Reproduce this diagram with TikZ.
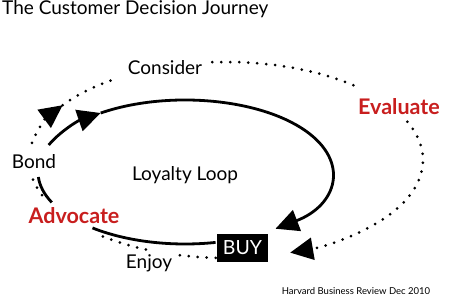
\documentclass[tikz,border=0pt]{standalone}
\usepackage{fontspec}
\setmainfont{Lato}
\usetikzlibrary{arrows.meta}
\definecolor{hbrred}{RGB}{200,30,30}

\begin{document}
\begin{tikzpicture}[x=1pt, y=1pt, >={Triangle[length=23pt, width=22pt]},
        stage/.style={font=\fontsize{19}{22}\selectfont, inner sep=1pt},
        hot/.style={font=\fontsize{21.5}{24}\selectfont\bfseries, text=hbrred, inner sep=1pt},
        loyal/.style={line width=2.8pt},
        journey/.style={line width=3pt, line cap=round, dash pattern=on 0pt off 9pt}]
    \useasboundingbox (0,0) rectangle (450,297);

    \node[stage, anchor=base west] (title) at (1,282) {The Customer Decision Journey};
    \node[stage, anchor=base] (consider) at (165,222) {Consider};
    \node[hot, anchor=base] (evaluate) at (399,182) {Evaluate};
    \node[stage, anchor=base] (bond) at (34,128) {Bond};
    \node[stage, anchor=base] (loyalty) at (185,116) {Loyalty Loop};
    \node[hot, anchor=base] (advocate) at (74,73) {Advocate};
    \node[stage, anchor=base] (enjoy) at (149,28) {Enjoy};
    \node[font=\fontsize{9.5}{11}\selectfont, anchor=base, inner sep=0pt] (source) at (356,2) {Harvard Business Review Dec 2010};

    % centres of the two loops
    \coordinate (loop) at (185,125);
    \coordinate (trip) at (226,137);

    % loyalty loop
    \path (loop) ++(-78:147 and 72) coordinate (buy-l);
    \path (loop) ++(-155:147 and 72) coordinate (adv-l);
    \path (loop) ++(158:147 and 72) coordinate (bond-l);
    \path (loop) ++(125:147 and 72) coordinate (tip-l);
    \draw[loyal] (buy-l) arc[start angle=-78, end angle=-129, x radius=147, y radius=72];
    \draw[loyal] (adv-l) arc[start angle=-155, end angle=-176, x radius=147, y radius=72];
    \draw[loyal, ->] (bond-l) arc[start angle=158, end angle=125, x radius=147, y radius=72];
    \draw[loyal, ->] (tip-l) arc[start angle=125, end angle=-52, x radius=147, y radius=72];

    % outer journey
    \path (trip) ++(170:197 and 98) coordinate (bond-j);
    \path (trip) ++(146:197 and 98) coordinate (tip-j);
    \path (trip) ++(94:197 and 98) coordinate (con-j);
    \path (trip) ++(23:197 and 98) coordinate (eva-j);
    \path (trip) ++(-93:197 and 98) coordinate (buy-j);
    \path (trip) ++(-114:197 and 98) coordinate (enj-j);
    \path (trip) ++(-159:197 and 98) coordinate (adv-j);
    \draw[journey, ->] (bond-j) arc[start angle=170, end angle=146, x radius=197, y radius=98];
    \draw[journey] (tip-j) arc[start angle=146, end angle=123, x radius=197, y radius=98];
    \draw[journey] (con-j) arc[start angle=94, end angle=47, x radius=197, y radius=98];
    \draw[journey, ->] (eva-j) arc[start angle=23, end angle=-71, x radius=197, y radius=98];
    \draw[journey] (buy-j) arc[start angle=-93, end angle=-104, x radius=197, y radius=98];
    \draw[journey] (enj-j) arc[start angle=-114, end angle=-131, x radius=197, y radius=98];
    \draw[journey] (adv-j) arc[start angle=-159, end angle=-170, x radius=197, y radius=98];

    \node[fill=black, text=white, minimum width=51pt, minimum height=28pt, inner sep=0pt,
        font=\fontsize{19.5}{22}\selectfont] (buy) at (242.5,49) {BUY};
\end{tikzpicture}
\end{document}
